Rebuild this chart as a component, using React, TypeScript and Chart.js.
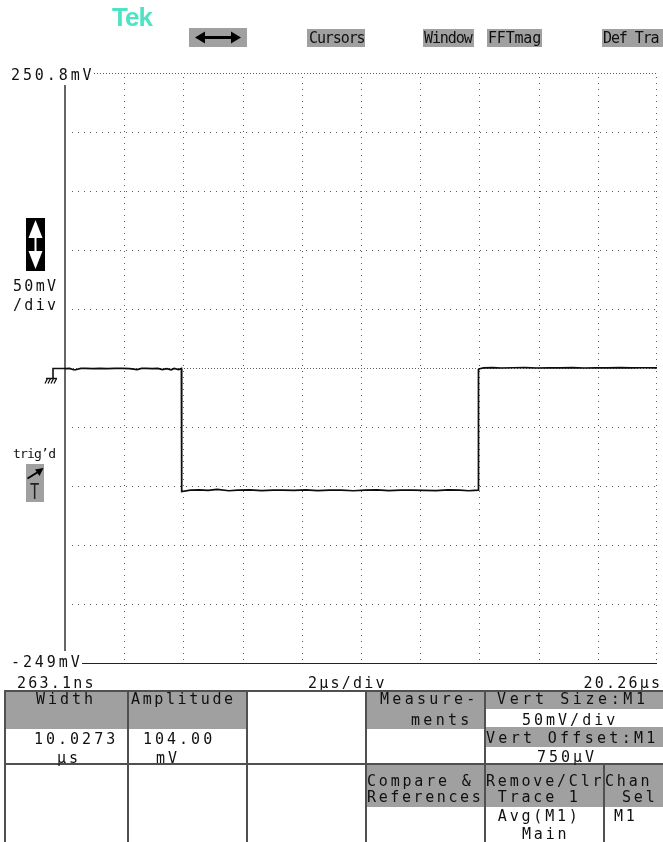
import React, { useEffect, useRef } from "react";
import { Chart, registerables } from "chart.js";

Chart.register(...registerables);

// ---------------- data read from the reference ----------------
const timeStartUs = 0.2631;
const timeEndUs = 20.26;
const voltBottomMv = -249;
const voltTopMv = 250.8;

// graticule (2 µs/div, 50 mV/div)
const xDivisionsUs = [2.2631, 4.2631, 6.2631, 8.2631, 10.2631, 12.2631, 14.2631, 16.2631, 18.2631, 20.26];
const yDivisionsMv = [200.8, 150.8, 100.8, 50.8, 0.8, -49.2, -99.2, -149.2, -199.2];
const centerLineMv = 0.8;

// trace: before the pulse, the low level, after the pulse
const preTimeUs = [0.2631, 0.42, 0.55, 0.62, 0.8, 0.95, 1.2, 1.45, 1.7, 1.95, 2.2, 2.45, 2.7, 2.85, 3.0, 3.2, 3.4, 3.55, 3.7, 3.85, 3.95, 4.1, 4.195];
const preVoltMv = [0.4, 0.5, -0.6, -0.6, 0.5, 0.5, 0.4, 0.5, 0.3, 0.5, 0.5, 0.4, -0.4, 0.5, 0.5, 0.4, 0.5, -0.5, 0.4, -0.6, 0.5, -0.4, 0.5];
const lowTimeUs = [4.205, 4.5, 4.8, 5.1, 5.4, 5.8, 6.1, 6.5, 6.9, 7.3, 7.6, 8.0, 8.4, 8.8, 9.2, 9.6, 10.0, 10.4, 10.8, 11.2, 11.6, 12.0, 12.4, 12.8, 13.2, 13.6, 13.9, 14.1, 14.215];
const lowVoltMv = [-103.8, -102.6, -102.4, -102.7, -101.9, -103.1, -102.6, -102.4, -103.0, -102.5, -102.6, -102.8, -102.4, -103.0, -102.6, -102.5, -103.1, -102.6, -102.4, -102.9, -102.6, -102.5, -102.8, -103.0, -102.4, -102.6, -103.1, -102.7, -102.5];
const postTimeUs = [14.23, 14.27, 14.4, 14.7, 15.0, 15.4, 15.8, 16.2, 16.6, 17.0, 17.4, 17.8, 18.2, 18.6, 19.0, 19.4, 19.8, 20.26];
const postVoltMv = [-0.3, 0.3, 1.0, 1.2, 0.9, 1.1, 1.3, 0.9, 1.1, 1.0, 1.2, 0.9, 1.1, 1.0, 1.3, 1.0, 1.1, 1.0];

// texts
const yEndLabels = ["250.8mV", "-249mV"];
const xEndLabels = ["263.1ns", "20.26µs"];
const timebaseLabel = "2µs/div";
const vScaleLabels = ["50mV", "/div"];
const buttonLabels = ["Cursors", "Window", "FFTmag", "Def Tra"];
const measNames = ["Width", "Amplitude"];
const measValues = ["10.0273", "104.00"];
const measUnits = ["µs", "mV"];

// ---------------- styling ----------------
const MONO = '"DejaVu Sans Mono", "Liberation Mono", monospace';
const GRAY = "#a0a0a0";
const INK = "#101010";
const RULE = "#505050";

const scopeGraticule = {
  id: "scopeGraticule",
  beforeDatasetsDraw(chart: any) {
    const { ctx, chartArea: a, scales } = chart;
    const xs = scales.x;
    const ys = scales.y;
    const L = Math.round(a.left);
    const R = Math.round(a.right);
    const T = Math.round(a.top);
    const B = Math.round(a.bottom);
    ctx.save();
    ctx.fillStyle = "#5c5c5c";
    // vertical divisions
    for (const t of xDivisionsUs) {
      const px = Math.min(R - 1, Math.round(xs.getPixelForValue(t)));
      for (let py = T + 4; py < B - 2; py += 6) ctx.fillRect(px, py, 1, 1);
    }
    // horizontal divisions
    for (const v of yDivisionsMv) {
      const py = Math.round(ys.getPixelForValue(v));
      const dense = v === centerLineMv;
      const step = dense ? 3 : 6;
      for (let px = L + (dense ? 2 : 7); px < R; px += step) ctx.fillRect(px, py, 1, 1);
    }
    // top edge (dense), starting after the label
    for (let px = L + 29; px < R; px += 3) ctx.fillRect(px, T, 1, 1);
    // left axis bar
    ctx.fillStyle = "#666666";
    ctx.fillRect(L - 1, T + 12, 2, B - T - 24);
    // bottom edge solid
    ctx.fillStyle = "#222222";
    ctx.fillRect(L + 17, B, R - L - 17, 1);
    ctx.restore();
  },
};

type LabelProps = {
  text: string;
  cy: number;
  x?: number;
  right?: number;
  size?: number;
  ls?: number;
  color?: string;
  scaleX?: number;
};

function Label({ text, cy, x, right, size = 15, ls = 3, color = INK, scaleX }: LabelProps) {
  const style: React.CSSProperties = {
    position: "absolute",
    top: cy - 0.58 * size,
    fontFamily: MONO,
    fontSize: size,
    lineHeight: `${1.2 * size}px`,
    letterSpacing: `${ls}px`,
    whiteSpace: "pre",
    color,
  };
  if (right !== undefined) style.right = right - ls;
  else style.left = x;
  if (scaleX) {
    style.transform = `scaleX(${scaleX})`;
    style.transformOrigin = "left center";
  }
  return <div style={style}>{text}</div>;
}

function Rect({ x, y, w, h, bg }: { x: number; y: number; w: number; h: number; bg: string }) {
  return <div style={{ position: "absolute", left: x, top: y, width: w, height: h, background: bg }} />;
}

export default function App() {
  const canvasRef = useRef<HTMLCanvasElement | null>(null);

  useEffect(() => {
    const canvas = canvasRef.current;
    if (!canvas) return;
    const points = [
      ...preTimeUs.map((t, i) => ({ x: t, y: preVoltMv[i] })),
      ...lowTimeUs.map((t, i) => ({ x: t, y: lowVoltMv[i] })),
      ...postTimeUs.map((t, i) => ({ x: t, y: postVoltMv[i] })),
    ];
    const chart = new Chart(canvas, {
      type: "line",
      data: {
        datasets: [
          {
            data: points,
            borderColor: "#0c0c0c",
            borderWidth: 1.7,
            pointRadius: 0,
            tension: 0,
            fill: false,
          },
        ],
      },
      options: {
        animation: false,
        responsive: false,
        maintainAspectRatio: false,
        layout: { padding: { left: 65, top: 73, right: 6, bottom: 179 } },
        scales: {
          x: { type: "linear", min: timeStartUs, max: timeEndUs, display: false },
          y: { type: "linear", min: voltBottomMv, max: voltTopMv, display: false },
        },
        plugins: { legend: { display: false }, tooltip: { enabled: false } },
      },
      plugins: [scopeGraticule],
    });
    return () => chart.destroy();
  }, []);

  return (
    <div
      style={{
        position: "absolute",
        left: 0,
        top: 0,
        width: 663,
        height: 842,
        overflow: "hidden",
        background: "#ffffff",
      }}
    >
      <canvas
        ref={canvasRef}
        width={663}
        height={842}
        style={{ position: "absolute", left: 0, top: 0, width: 663, height: 842 }}
      />

      {/* Tek logo */}
      <div
        style={{
          position: "absolute",
          left: 112,
          top: 2,
          fontFamily: '"Liberation Sans", Arial, sans-serif',
          fontWeight: 700,
          fontSize: 26,
          lineHeight: "31px",
          letterSpacing: "-1px",
          color: "#4ee3c4",
        }}
      >
        Tek
      </div>

      {/* top buttons */}
      <Rect x={189} y={28} w={58} h={19} bg={GRAY} />
      <svg style={{ position: "absolute", left: 189, top: 28 }} width={58} height={19}>
        <polygon points="6,9.5 16,3.5 16,15.5" fill="#000" />
        <polygon points="52,9.5 42,3.5 42,15.5" fill="#000" />
        <rect x={15} y={8} width={28} height={3} fill="#000" />
      </svg>
      <Rect x={307} y={29} w={58} h={18} bg={GRAY} />
      <Label text={buttonLabels[0]} x={309} cy={38} size={15} ls={-1.1} />
      <Rect x={423} y={29} w={51} h={18} bg={GRAY} />
      <Label text={buttonLabels[1]} x={424} cy={38} size={15} ls={-1.1} />
      <Rect x={487} y={29} w={55} h={18} bg={GRAY} />
      <Label text={buttonLabels[2]} x={488} cy={38} size={15} ls={-0.2} />
      <Rect x={602} y={29} w={61} h={18} bg={GRAY} />
      <Label text={buttonLabels[3]} x={603} cy={38} size={15} ls={-1.1} />

      {/* vertical scale labels */}
      <Label text={yEndLabels[0]} x={11} cy={75} ls={2.9} />
      <Label text={yEndLabels[1]} x={11} cy={662} ls={2.9} />

      {/* vertical size icon */}
      <svg style={{ position: "absolute", left: 26, top: 218 }} width={19} height={53}>
        <rect x={0} y={0} width={19} height={53} fill="#000" />
        <polygon points="9.5,2 2.5,20 16.5,20" fill="#fff" />
        <polygon points="9.5,51 2.5,33 16.5,33" fill="#fff" />
        <rect x={8.5} y={18} width={2} height={17} fill="#fff" />
      </svg>
      <Label text={vScaleLabels[0]} x={13} cy={286} ls={2.3} />
      <Label text={vScaleLabels[1]} x={13} cy={305} ls={2.3} />

      {/* ground / level marker */}
      <svg style={{ position: "absolute", left: 40, top: 362 }} width={26} height={24}>
        <path d="M25 6.5 H13 V16 M6 16.5 H17" stroke="#111" strokeWidth={1.6} fill="none" />
        <path d="M7.5 16.5 L5 21.5 M10.5 16.5 L8 21.5 M13.5 16.5 L11 21.5 M16.5 16.5 L14 21.5" stroke="#111" strokeWidth={1.3} fill="none" />
      </svg>

      {/* trigger status */}
      <Label text="trig’d" x={13} cy={454} size={13} ls={-0.8} />
      <Rect x={26} y={464} w={18} h={38} bg={GRAY} />
      <svg style={{ position: "absolute", left: 26, top: 464 }} width={18} height={18}>
        <line x1={1.5} y1={14.5} x2={12} y2={8} stroke="#000" strokeWidth={2} />
        <polygon points="17.5,4 9,5.5 13.5,12" fill="#000" />
      </svg>
      <Label text="T" x={30} cy={492} size={22} ls={0} scaleX={0.7} color="#222" />

      {/* horizontal scale labels */}
      <Label text={xEndLabels[0]} x={17} cy={683} ls={2.2} />
      <Label text={timebaseLabel} x={308} cy={683} ls={2.2} />
      <Label text={xEndLabels[1]} right={3} cy={683} ls={2.2} />

      {/* table backgrounds */}
      <Rect x={6} y={692} w={121} h={37} bg={GRAY} />
      <Rect x={129} y={692} w={117} h={37} bg={GRAY} />
      <Rect x={367} y={692} w={117} h={37} bg={GRAY} />
      <Rect x={486} y={692} w={177} h={17} bg={GRAY} />
      <Rect x={486} y={727} w={177} h={20} bg={GRAY} />
      <Rect x={367} y={765} w={117} h={42} bg={GRAY} />
      <Rect x={486} y={765} w={117} h={42} bg={GRAY} />
      <Rect x={605} y={765} w={58} h={42} bg={GRAY} />

      {/* table rules */}
      <Rect x={4} y={690} w={659} h={2} bg={RULE} />
      <Rect x={4} y={763} w={659} h={2} bg={RULE} />
      <Rect x={4} y={690} w={2} h={152} bg={RULE} />
      <Rect x={127} y={690} w={2} h={152} bg={RULE} />
      <Rect x={246} y={690} w={2} h={152} bg={RULE} />
      <Rect x={365} y={690} w={2} h={152} bg={RULE} />
      <Rect x={484} y={690} w={2} h={152} bg={RULE} />
      <Rect x={603} y={763} w={2} h={79} bg={RULE} />

      {/* table texts */}
      <Label text={measNames[0]} x={36} cy={699} />
      <Label text={measNames[1]} x={131} cy={699} ls={2.6} />
      <Label text={measValues[0]} x={34} cy={739} />
      <Label text={measValues[1]} x={143} cy={739} />
      <Label text={measUnits[0]} x={57} cy={758} />
      <Label text={measUnits[1]} x={156} cy={758} />

      <Label text="Measure-" x={380} cy={699} ls={3.3} />
      <Label text="ments" x={411} cy={720} ls={3.3} />
      <Label text="Vert Size:M1" x={497} cy={699} ls={3.6} />
      <Label text="50mV/div" x={522} cy={720} />
      <Label text="Vert Offset:M1" x={486} cy={738} ls={3.3} />
      <Label text="750µV" x={537} cy={757} />

      <Label text="Compare &" x={367} cy={781} ls={2.8} />
      <Label text="References" x={367} cy={797} ls={2.6} />
      <Label text="Remove/Clr" x={486} cy={781} ls={2.8} />
      <Label text=" Trace 1" x={486} cy={797} ls={2.8} />
      <Label text="Chan" x={605} cy={781} ls={2.8} />
      <Label text="Sel" x={622} cy={797} ls={2.8} />
      <Label text=" Avg(M1)" x={486} cy={816} ls={2.8} />
      <Label text="Main" x={522} cy={834} ls={2.8} />
      <Label text="M1" x={614} cy={816} ls={2.8} />
    </div>
  );
}
